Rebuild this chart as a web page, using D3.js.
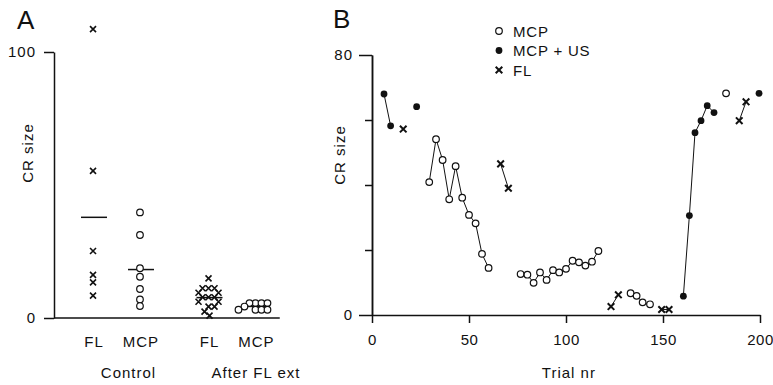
<!DOCTYPE html>
<html>
<head>
<meta charset="utf-8">
<script src="https://cdn.jsdelivr.net/npm/d3@7"></script>
<style>
  html, body { margin: 0; padding: 0; background: #fff; }
  svg text { font-family: "Liberation Sans", Arial, Helvetica, sans-serif; fill: #111; }
</style>
</head>
<body>
<div id="chart"></div>
<script>
// ---- panel A data (CR size per animal) ----
const groupsA = ['Control', 'After FL ext'];
const treatmentsA = ['FL', 'MCP'];
const controlFL = [108.6, 55.3, 25.2, 16.2, 13.4, 8.4];
const controlMCP = [39.7, 31.2, 18.7, 15.5, 10.9, 7.0, 4.5];
const afterFL = [14.9, 11.2, 11.2, 11.2, 9.5, 9.5, 7.8, 7.8, 7.8, 6.1, 6.1, 4.3, 4.3, 2.4, 0.9];
const afterMCP = [5.6, 5.6, 5.6, 5.6, 4.3, 3.1, 3.1, 3.1, 3.1];
const ticksA = [0, 100];

// ---- panel B data: runs of [trial, CR size], points in a run are joined ----
const mcpRuns = [
  [[29.5, 40.9], [33, 54.1], [36.4, 47.7], [39.8, 35.6], [43.1, 45.8], [46.5, 36.1],
   [50, 30.8], [53.4, 28.2], [56.7, 18.8], [60.1, 14.5]],
  [[76.6, 12.6], [80.1, 12.4], [83.3, 9.9], [86.6, 13.1], [90, 10.8], [93.3, 13.8],
   [96.5, 13.1], [100, 14.2], [103.4, 16.7], [106.7, 16.2], [110, 15.2], [113.4, 16.4], [116.7, 19.7]],
  [[133.3, 6.7], [136.4, 5.9], [139.5, 3.9], [143.3, 3.3]],
  [[182.5, 68.2]]
];
const mcpUsRuns = [
  [[6.2, 68.0], [9.6, 58.2]],
  [[23, 64.1]],
  [[160.5, 5.8], [163.6, 30.6], [166.5, 56.1], [169.6, 59.8], [172.8, 64.4], [176.3, 62.3]],
  [[199.5, 68.2]]
];
const flRuns = [
  [[16.1, 57.2]],
  [[66.3, 46.5], [70.3, 39.0]],
  [[123.2, 2.6], [127, 6.2]],
  [[149.3, 1.7], [153.1, 1.7]],
  [[189.3, 59.8], [192.8, 65.6]]
];
const xTicksB = [0, 50, 100, 150, 200];
const yTicksB = [0, 80];
const yMinorB = [20, 40, 60];
const legendB = ['MCP', 'MCP + US', 'FL'];

const svg = d3.select('#chart').append('svg')
  .attr('width', 773).attr('height', 385);

const crossPath = s => `M${-s},${-s}L${s},${s}M${-s},${s}L${s},${-s}`;

function drawMarker(g, kind, x, y, big) {
  if (kind === 'FL') {
    const s = big ? 3.3 : 3;
    g.append('path').attr('d', crossPath(s))
      .attr('transform', `translate(${x},${y})`)
      .attr('stroke', '#111').attr('stroke-width', big ? 2 : 1.6).attr('fill', 'none');
  } else if (kind === 'MCP') {
    g.append('circle').attr('cx', x).attr('cy', y).attr('r', 3.3)
      .attr('fill', '#fff').attr('stroke', '#111').attr('stroke-width', 1.2);
  } else {
    g.append('circle').attr('cx', x).attr('cy', y).attr('r', 3.4)
      .attr('fill', '#111');
  }
}

// ================= Panel A =================
const gA = svg.append('g');
const yA = d3.scaleLinear().domain([0, 100]).range([318, 52]);
const outerA = d3.scaleBand().domain(groupsA).range([58.75, 289.75]);
const innerA = d3.scalePoint().domain(treatmentsA).range([0, outerA.bandwidth()]).padding(0.73);

gA.append('text').attr('x', 17).attr('y', 29).attr('font-size', 26).text('A');

const axisA = d3.axisLeft(yA).tickValues(ticksA).tickSize(10).tickSizeOuter(0).tickPadding(8);
gA.append('g').attr('transform', 'translate(54,0)').call(axisA)
  .call(g => g.select('.domain').attr('stroke', '#111').attr('stroke-width', 1.5))
  .call(g => g.selectAll('.tick line').attr('stroke', '#111').attr('stroke-width', 1.5))
  .call(g => g.selectAll('.tick text').attr('font-size', 15).attr('letter-spacing', 1)
    .attr('font-family', '"Liberation Sans", Arial, sans-serif').attr('fill', '#111'));

// baseline
gA.append('line')
  .attr('x1', 54).attr('x2', outerA.range()[1] - 10)
  .attr('y1', yA(0)).attr('y2', yA(0))
  .attr('stroke', '#111').attr('stroke-width', 1.3);

gA.append('text').attr('transform', `translate(33,${(yA(0) + yA(100)) / 2 - 32}) rotate(-90)`)
  .attr('text-anchor', 'middle').attr('font-size', 15).attr('letter-spacing', 1).text('CR size');

const seriesA = [
  { group: 'Control', kind: 'FL', values: controlFL },
  { group: 'Control', kind: 'MCP', values: controlMCP },
  { group: 'After FL ext', kind: 'FL', values: afterFL },
  { group: 'After FL ext', kind: 'MCP', values: afterMCP }
];

// simple beeswarm dodge so overlapping points sit side by side
function dodge(values, minDist) {
  const placed = [];
  values.slice().sort((a, b) => b - a).forEach(v => {
    const y = yA(v);
    for (let k = 0; k < 60; k++) {
      const dx = (k % 2 ? 1 : -1) * Math.ceil(k / 2);
      if (placed.every(p => Math.hypot(p.dx - dx, p.y - y) >= minDist)) {
        placed.push({ dx, y });
        break;
      }
    }
  });
  return placed;
}

seriesA.forEach(s => {
  const cx = outerA(s.group) + innerA(s.kind);
  const mean = d3.mean(s.values);
  gA.append('line')
    .attr('x1', cx - 12).attr('x2', cx + 14)
    .attr('y1', yA(mean)).attr('y2', yA(mean))
    .attr('stroke', '#111').attr('stroke-width', 1.5);
  dodge(s.values, 6).forEach(p => drawMarker(gA, s.kind, cx + p.dx, p.y, false));
  gA.append('text').attr('x', cx + 1).attr('y', 347).attr('text-anchor', 'middle')
    .attr('font-size', 15).attr('letter-spacing', 1).text(s.kind);
});

groupsA.forEach((grp, i) => {
  gA.append('text')
    .attr('x', outerA(grp) + outerA.bandwidth() / 2 + (i ? 24 : 12))
    .attr('y', 378).attr('text-anchor', 'middle')
    .attr('font-size', 15).attr('letter-spacing', 1).text(grp);
});

// ================= Panel B =================
const gB = svg.append('g');
const xB = d3.scaleLinear().domain([0, 200]).range([372, 760]);
const yB = d3.scaleLinear().domain([0, 80]).range([315, 55]);

gB.append('text').attr('x', 333).attr('y', 28).attr('font-size', 26).text('B');

const styleAxis = g => {
  g.select('.domain').attr('stroke', '#111').attr('stroke-width', 1.5);
  g.selectAll('.tick line').attr('stroke', '#111').attr('stroke-width', 1.5);
  g.selectAll('.tick text').attr('font-size', 15).attr('letter-spacing', 1)
    .attr('font-family', '"Liberation Sans", Arial, sans-serif').attr('fill', '#111');
};

gB.append('g').attr('transform', `translate(0,${yB(0)})`)
  .call(d3.axisBottom(xB).tickValues(xTicksB).tickSize(8).tickSizeOuter(0).tickPadding(11))
  .call(styleAxis)
  .call(g => g.selectAll('.tick text').attr('letter-spacing', 0.5));

gB.append('g').attr('transform', `translate(${xB(0)},0)`)
  .call(d3.axisLeft(yB).tickValues(yMinorB).tickSize(7).tickSizeOuter(0).tickFormat(''))
  .call(styleAxis);

gB.append('g').attr('transform', `translate(${xB(0)},0)`)
  .call(d3.axisLeft(yB).tickValues(yTicksB).tickSize(13).tickSizeOuter(0).tickPadding(6))
  .call(styleAxis);

gB.append('text').attr('transform', `translate(345,${(yB(0) + yB(80)) / 2 - 30}) rotate(-90)`)
  .attr('text-anchor', 'middle').attr('font-size', 15).attr('letter-spacing', 1).text('CR size');

gB.append('text').attr('x', xB(101.5)).attr('y', 378).attr('text-anchor', 'middle')
  .attr('font-size', 15).attr('letter-spacing', 1).text('Trial nr');

// panel B series
const line = d3.line().x(d => xB(d[0])).y(d => yB(d[1]));
const seriesB = [
  { kind: 'MCP', runs: mcpRuns },
  { kind: 'MCP + US', runs: mcpUsRuns },
  { kind: 'FL', runs: flRuns }
];
seriesB.forEach(s => s.runs.filter(r => r.length > 1).forEach(r => {
  gB.append('path').attr('d', line(r)).attr('fill', 'none')
    .attr('stroke', '#111').attr('stroke-width', 1);
}));
seriesB.forEach(s => s.runs.forEach(r => r.forEach(d => {
  drawMarker(gB, s.kind, xB(d[0]), yB(d[1]), true);
})));

// legend
legendB.forEach((name, i) => {
  const y = 31 + i * 19.5;
  drawMarker(gB, name, 499, y, true);
  gB.append('text').attr('x', 513).attr('y', y + 5.5)
    .attr('font-size', 15).attr('letter-spacing', 0.8).text(name);
});
</script>
</body>
</html>
